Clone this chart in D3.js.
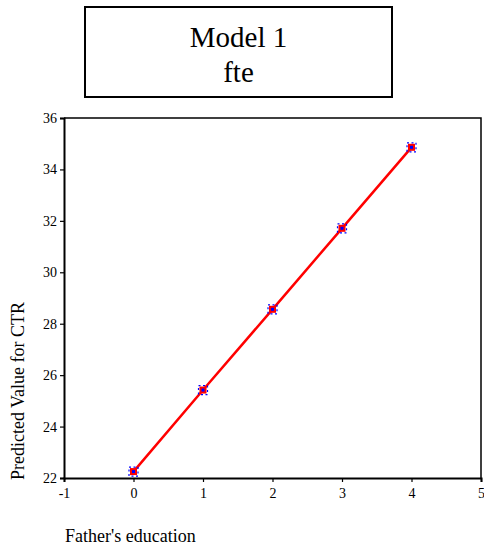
<!DOCTYPE html>
<html>
<head>
<meta charset="utf-8">
<script src="https://cdn.jsdelivr.net/npm/d3@7"></script>
<style>
  html, body { margin: 0; padding: 0; background: #fff; }
  svg { display: block; }
</style>
</head>
<body>
<div id="chart"></div>
<script>
// Data
const fatherEducation = [0, 1, 2, 3, 4];
const predictedCTR = [22.25, 25.42, 28.56, 31.71, 34.86];
const xTicks = [-1, 0, 1, 2, 3, 4, 5];
const yTicks = [22, 24, 26, 28, 30, 32, 34, 36];
const titleLines = ['Model 1', 'fte'];

const width = 484, height = 551;
const plot = { left: 64, top: 118, right: 481, bottom: 478 };
const serif = 'Liberation Serif, serif';

const svg = d3.select('#chart')
  .append('svg')
  .attr('width', width)
  .attr('height', height)
  .attr('font-family', serif);

// Title box
svg.append('rect')
  .attr('x', 85).attr('y', 7)
  .attr('width', 307).attr('height', 90)
  .attr('fill', 'none')
  .attr('stroke', '#000')
  .attr('stroke-width', 2);

svg.selectAll('.title-line')
  .data(titleLines)
  .enter()
  .append('text')
  .attr('class', 'title-line')
  .attr('x', 238.5)
  .attr('y', (d, i) => 47 + i * 35)
  .attr('text-anchor', 'middle')
  .attr('font-family', serif)
  .attr('font-size', 29)
  .attr('fill', '#000')
  .text(d => d);

// Scales
const x = d3.scaleLinear().domain([-1, 5]).range([plot.left, plot.right]);
const y = d3.scaleLinear().domain([22, 36]).range([plot.bottom, plot.top]);

// Frame (top and right)
svg.append('path')
  .attr('d', `M${plot.left},${plot.top}H${plot.right}V${plot.bottom}`)
  .attr('fill', 'none')
  .attr('stroke', '#000')
  .attr('stroke-width', 1.5);

// Axes
const xAxis = d3.axisBottom(x)
  .tickValues(xTicks)
  .tickSize(4)
  .tickPadding(6)
  .tickFormat(d => String(d));

svg.append('g')
  .attr('transform', `translate(0,${plot.bottom})`)
  .call(xAxis)
  .attr('font-family', serif)
  .attr('font-size', 14)
  .call(g => g.select('.domain').attr('stroke-width', 2))
  .call(g => g.selectAll('.tick line').attr('stroke-width', 1.2))
  .call(g => g.selectAll('text').attr('fill', '#000'));

const yAxis = d3.axisLeft(y)
  .tickValues(yTicks)
  .tickSize(4)
  .tickPadding(3)
  .tickFormat(d => String(d));

svg.append('g')
  .attr('transform', `translate(${plot.left},0)`)
  .call(yAxis)
  .attr('font-family', serif)
  .attr('font-size', 14)
  .call(g => g.select('.domain').attr('stroke-width', 2))
  .call(g => g.selectAll('.tick line').attr('stroke-width', 1.2))
  .call(g => g.selectAll('text').attr('fill', '#000'));

// Axis labels
svg.append('text')
  .attr('x', 65)
  .attr('y', 542)
  .attr('font-family', serif)
  .attr('font-size', 18)
  .attr('fill', '#000')
  .text("Father's education");

svg.append('text')
  .attr('transform', 'rotate(-90)')
  .attr('x', -391)
  .attr('y', 24)
  .attr('text-anchor', 'middle')
  .attr('font-family', serif)
  .attr('font-size', 18)
  .attr('fill', '#000')
  .text('Predicted Value for CTR');

// Line
const points = fatherEducation.map((d, i) => ({ x: d, y: predictedCTR[i] }));

svg.append('path')
  .datum(points)
  .attr('d', d3.line().x(d => x(d.x)).y(d => y(d.y)))
  .attr('fill', 'none')
  .attr('stroke', '#ff0000')
  .attr('stroke-width', 2.5);

// Markers: blue dashed outline, red square, blue center
const markers = svg.selectAll('.marker')
  .data(points)
  .enter()
  .append('g')
  .attr('class', 'marker')
  .attr('transform', d => `translate(${x(d.x)},${y(d.y)})`);

markers.append('rect')
  .attr('x', -4.5).attr('y', -4.5)
  .attr('width', 9).attr('height', 9)
  .attr('fill', 'none')
  .attr('stroke', '#0000ff')
  .attr('stroke-width', 1.2)
  .attr('stroke-dasharray', '2,2.5');

markers.append('rect')
  .attr('x', -3.5).attr('y', -3.5)
  .attr('width', 7).attr('height', 7)
  .attr('fill', '#ff0000');

markers.append('rect')
  .attr('x', -1.5).attr('y', -1.5)
  .attr('width', 3).attr('height', 3)
  .attr('fill', '#0000ff');
</script>
</body>
</html>
